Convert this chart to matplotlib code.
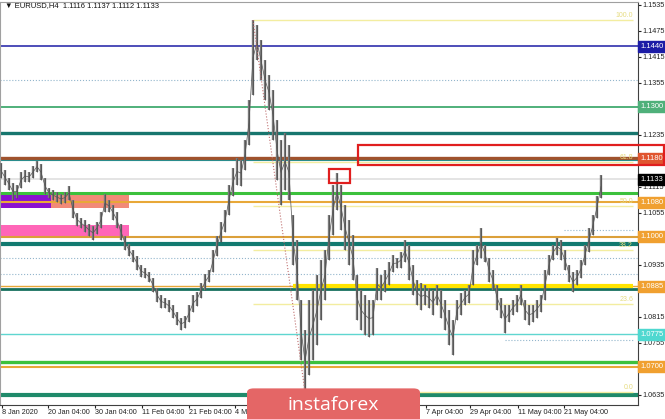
import numpy as np
import matplotlib
matplotlib.use("Agg")
import matplotlib.pyplot as plt
from matplotlib.patches import Rectangle, FancyBboxPatch

plt.rcParams['font.family'] = ['Liberation Sans Narrow', 'Liberation Sans', 'DejaVu Sans']

# EURUSD H4, every 4th bar (high / low)
highs = [1.1170, 1.1154, 1.1136, 1.1124, 1.1120, 1.1149, 1.1154, 1.1149, 1.1163, 1.1175,
         1.1168, 1.1136, 1.1113, 1.1108, 1.1103, 1.1099, 1.1103, 1.1117, 1.1085, 1.1055,
         1.1043, 1.1039, 1.1030, 1.1025, 1.1034, 1.1057, 1.1099, 1.1085, 1.1074, 1.1057,
         1.1030, 1.1002, 1.0983, 1.0970, 1.0956, 1.0935, 1.0928, 1.0919, 1.0905, 1.0882,
         1.0866, 1.0859, 1.0854, 1.0843, 1.0827, 1.0813, 1.0817, 1.0843, 1.0866, 1.0873,
         1.0893, 1.0914, 1.0923, 1.0970, 1.1002, 1.1034, 1.1062, 1.1120, 1.1158, 1.1182,
         1.1177, 1.1223, 1.1316, 1.1500, 1.1489, 1.1454, 1.1408, 1.1374, 1.1339, 1.1270,
         1.1223, 1.1240, 1.1212, 1.1050, 1.0993, 1.0854, 1.0785, 1.0854, 1.0877, 1.0912,
         1.0947, 1.0970, 1.1050, 1.1120, 1.1147, 1.1120, 1.1074, 1.1039, 1.1004, 1.0912,
         1.0877, 1.0866, 1.0854, 1.0854, 1.0928, 1.0912, 1.0923, 1.0942, 1.0958, 1.0951,
         1.0965, 1.0993, 1.0981, 1.0935, 1.0900, 1.0893, 1.0889, 1.0882, 1.0877, 1.0889,
         1.0877, 1.0854, 1.0831, 1.0808, 1.0854, 1.0870, 1.0877, 1.0889, 1.0970, 1.0981,
         1.1020, 1.0981, 1.0951, 1.0923, 1.0889, 1.0859, 1.0843, 1.0843, 1.0854, 1.0866,
         1.0889, 1.0854, 1.0843, 1.0843, 1.0854, 1.0866, 1.0923, 1.0958, 1.0981, 1.0997,
         1.0993, 1.0970, 1.0935, 1.0919, 1.0923, 1.0947, 1.0981, 1.1020, 1.1050, 1.1094,
         1.1142]
lows = [1.1136, 1.1120, 1.1108, 1.1085, 1.1090, 1.1113, 1.1127, 1.1127, 1.1136, 1.1149,
        1.1131, 1.1099, 1.1090, 1.1085, 1.1080, 1.1076, 1.1078, 1.1085, 1.1043, 1.1025,
        1.1020, 1.1011, 1.1002, 1.0993, 1.1007, 1.1020, 1.1057, 1.1057, 1.1039, 1.1020,
        1.0993, 1.0970, 1.0956, 1.0942, 1.0923, 1.0907, 1.0905, 1.0896, 1.0873, 1.0850,
        1.0836, 1.0836, 1.0827, 1.0813, 1.0797, 1.0785, 1.0790, 1.0804, 1.0827, 1.0840,
        1.0859, 1.0877, 1.0896, 1.0919, 1.0956, 1.0988, 1.1011, 1.1050, 1.1094, 1.1120,
        1.1117, 1.1154, 1.1212, 1.1327, 1.1408, 1.1362, 1.1316, 1.1293, 1.1223, 1.1131,
        1.1074, 1.1108, 1.1085, 1.0935, 1.0854, 1.0716, 1.0642, 1.0681, 1.0716, 1.0750,
        1.0808, 1.0854, 1.0947, 1.1004, 1.1062, 1.1016, 1.0970, 1.0935, 1.0900, 1.0808,
        1.0785, 1.0773, 1.0769, 1.0773, 1.0854, 1.0854, 1.0873, 1.0889, 1.0919, 1.0928,
        1.0928, 1.0942, 1.0900, 1.0866, 1.0843, 1.0831, 1.0843, 1.0836, 1.0820, 1.0843,
        1.0813, 1.0785, 1.0750, 1.0727, 1.0808, 1.0820, 1.0843, 1.0847, 1.0889, 1.0935,
        1.0951, 1.0942, 1.0896, 1.0877, 1.0831, 1.0813, 1.0778, 1.0804, 1.0820, 1.0827,
        1.0843, 1.0808, 1.0797, 1.0804, 1.0813, 1.0827, 1.0854, 1.0912, 1.0947, 1.0958,
        1.0947, 1.0923, 1.0896, 1.0873, 1.0889, 1.0905, 1.0935, 1.0965, 1.1004, 1.1043,
        1.1090]

date_labels = ['8 Jan 2020', '20 Jan 04:00', '30 Jan 04:00', '11 Feb 04:00', '21 Feb 04:00',
               '4 Mar 04:00', '7 Apr 04:00', '29 Apr 04:00', '11 May 04:00', '21 May 04:00']
date_bars = [0.25, 11.75, 23.5, 35.25, 47, 58.5, 106.25, 117.25, 129.25, 140.75]

price_ticks = [1.1535, 1.1475, 1.1415, 1.1355, 1.1295, 1.1235, 1.1175, 1.1115,
               1.1055, 1.0995, 1.0935, 1.0875, 1.0815, 1.0755, 1.0695, 1.0635]

# full-width levels
level_prices = [1.1440, 1.1362, 1.1300, 1.1240, 1.1182, 1.1177, 1.1133, 1.1100, 1.1080,
                1.1000, 1.0983, 1.0951, 1.0914, 1.0886, 1.0880, 1.0775, 1.0711, 1.0700, 1.0636]
level_colors = ['#1c1ca6', '#93b6cc', '#4fb07a', '#17766e', '#a0522d', '#2a8c8c', '#dcdcdc',
                '#3cc13c', '#e8a838', '#dba03a', '#127a70', '#93b6cc', '#93b6cc', '#e8a838',
                '#16705e', '#5fd6d0', '#3cc13c', '#e8a838', '#1f8a6a']
level_widths = [1.1, 0.8, 1.4, 2.4, 2.4, 0.8, 1.1, 2.2, 1.5, 1.5, 3.0, 0.8, 0.8, 1.0, 2.0,
                1.0, 2.4, 1.5, 3.0]
level_styles = ['-', ':', '-', '-', '-', '-', '-', '-', '-', '-', '-', ':', ':', '-', '-',
                '-', '-', '-', '-']

# price labels on the axis
box_prices = [1.1440, 1.1300, 1.1180, 1.1133, 1.1080, 1.1000, 1.0885, 1.0775, 1.0700]
box_colors = ['#1c1ca6', '#4fb07a', '#e0552f', '#000000', '#f0a030', '#f0a030', '#f0a030',
              '#4fd8d0', '#f0a030']

# coloured zones: (top, bottom, last bar)
zone_tops = [1.1097, 1.1097, 1.1027]
zone_bottoms = [1.1067, 1.1067, 1.0999]
zone_ends = [32, 12.5, 32]
zone_colors = ['#f28a78', '#8a10d0', '#ff66b8']

fib_ratios = [1.0, 0.618, 0.5, 0.382, 0.236, 0.0]
fib_names = ['100.0', '61.8', '50.0', '38.2', '23.6', '0.0']

fig = plt.figure(figsize=(6.65, 4.19), dpi=100)
ax = fig.add_axes([0.0, 14 / 419, 638 / 665, 403 / 419])
ax.set_xlim(-0.25, 159.25)
ax.set_ylim(1.06119, 1.15419)

bars = np.arange(len(highs))
hi = np.array(highs)
lo = np.array(lows)

for t, b, e, c in zip(zone_tops, zone_bottoms, zone_ends, zone_colors):
    ax.add_patch(Rectangle((-0.25, b), e + 0.25, t - b, color=c, lw=0, zorder=1))

for p, c, w, s in zip(level_prices, level_colors, level_widths, level_styles):
    ax.axhline(p, color=c, lw=w, ls=s, zorder=2)

# partial lines
ax.hlines(1.0887, 73, 158, color='#ffe400', lw=3, zorder=2)
ax.hlines(1.1016, 140.75, 158, color='#93b6cc', lw=0.8, ls=':', zorder=2)
ax.hlines(1.0762, 126, 158, color='#93b6cc', lw=0.8, ls=':', zorder=2)

# fibonacci from the swing high to the swing low
top_i = int(np.argmax(hi))
bot_i = int(np.argmin(lo))
top, bot = hi.max(), lo.min()
for r, name in zip(fib_ratios, fib_names):
    lev = bot + r * (top - bot)
    ax.hlines(lev, top_i, 158, color='#f3eda0', lw=1, zorder=2)
    ax.text(158, lev + 0.0003, name, fontsize=5, color='#e6dc80', ha='right', va='bottom', zorder=3)
ax.plot([top_i, bot_i], [top, bot], ls=':', color='#c07070', lw=0.8, zorder=6)

# price bars
ax.vlines(bars, lo, hi, color='#7a7a7a', lw=1.7, zorder=5)
ax.vlines(bars, lo, hi, color='#4a4a4a', lw=0.5, zorder=5)
ax.plot(bars, (hi + lo) / 2, color='#555555', lw=0.5, zorder=5)

# red highlight boxes
ax.add_patch(Rectangle((89.25, 1.1166), 76.5, 0.0046, fill=False, ec='#e01e1e', lw=1.6,
                       clip_on=False, zorder=12))
ax.add_patch(Rectangle((82, 1.1124), 5.25, 0.0033, fill=False, ec='#e01e1e', lw=1.6, zorder=12))

# tick labels that sit under a price box are not shown
ax.yaxis.tick_right()
ax.set_yticks(price_ticks)
ax.set_yticklabels(['' if min(abs(p - b) for b in box_prices) < 0.0008 else f'{p:.4f}'
                    for p in price_ticks])
ax.set_xticks(date_bars)
ax.set_xticklabels(date_labels, ha='left')
ax.tick_params(axis='both', labelsize=5.2, length=2, pad=1, colors='#222222')
for side in ['left', 'top']:
    ax.spines[side].set_color('#a0a0a0')
for side in ['right', 'bottom']:
    ax.spines[side].set_color('#404040')

for p, c in zip(box_prices, box_colors):
    ax.annotate(f'{p:.4f}', xy=(1, p), xycoords=('axes fraction', 'data'), xytext=(1.5, 0),
                textcoords='offset points', ha='left', va='center', fontsize=5.5, color='white',
                bbox=dict(boxstyle='square,pad=0.25', fc=c, ec=c), annotation_clip=False, zorder=10)

fig.text(5 / 665, 1 - 6 / 419, '\u25bc EURUSD,H4  1.1116 1.1137 1.1112 1.1133', fontsize=5.5,
         va='center', color='#111111')

# watermark
fig.patches.append(FancyBboxPatch((247 / 665, -0.02), 173 / 665, 39 / 419,
                                  boxstyle='round,pad=0,rounding_size=0.01', transform=fig.transFigure,
                                  fc='#e46666', ec='none', zorder=20))
fig.text(333 / 665, 14 / 419, 'instaforex', fontsize=14, color='white', ha='center', va='center',
         family=['Open Sans', 'DejaVu Sans'], zorder=21)

fig.savefig('out.png', dpi=100)
